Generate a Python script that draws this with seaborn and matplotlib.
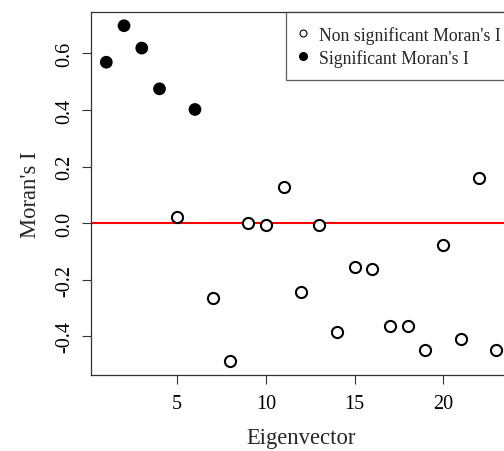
import numpy as np
import pandas as pd
import matplotlib
matplotlib.use("Agg")
import matplotlib.pyplot as plt
from matplotlib.lines import Line2D
import seaborn as sns

# Moran's I of each eigenvector
eigenvector = list(range(1, 24))
morans_i = [0.569, 0.698, 0.619, 0.475, 0.023, 0.402, -0.264, -0.488,
            0.000, -0.008, 0.129, -0.243, -0.005, -0.383, -0.154, -0.161,
            -0.363, -0.365, -0.448, -0.078, -0.410, 0.159, -0.448]
significant = [True, True, True, True, False, True] + [False] * 17

legend_labels = ["Non significant Moran's I", "Significant Moran's I"]
x_ticks = [5, 10, 15, 20]
y_ticks = [-0.4, -0.2, 0.0, 0.2, 0.4, 0.6]

df = pd.DataFrame({"Eigenvector": eigenvector, "MoransI": morans_i,
                   "Significant": significant})

sns.set_style("white")
plt.rcParams["font.family"] = ["Liberation Serif", "DejaVu Serif"]

fig = plt.figure(figsize=(5.04, 4.52), dpi=100)
ax = fig.add_axes([90.7 / 504, 1 - 375.7 / 452,
                   (512 - 90.7) / 504, (375.7 - 13.3) / 452])

ns = df[~df["Significant"]]
sg = df[df["Significant"]]
sns.scatterplot(data=ns, x="Eigenvector", y="MoransI", ax=ax, s=64,
                facecolor="white", edgecolor="black", linewidth=1.5,
                zorder=3)
sns.scatterplot(data=sg, x="Eigenvector", y="MoransI", ax=ax, s=84,
                color="black", edgecolor="none", linewidth=0, zorder=3)
ax.axhline(0, color="#ff0000", lw=1.5, zorder=2)

# 4% padding on both axes
xr = max(eigenvector) - min(eigenvector)
ax.set_xlim(min(eigenvector) - 0.04 * xr, max(eigenvector) + 0.04 * xr)
yr = max(morans_i) - min(morans_i)
ax.set_ylim(min(morans_i) - 0.04 * yr, max(morans_i) + 0.04 * yr)

ax.set_xticks(x_ticks)
ax.set_xticklabels([str(t) for t in x_ticks])
ax.set_yticks(y_ticks)
ax.set_yticklabels([f"{t:.1f}" for t in y_ticks], rotation=90, va="center")
ax.tick_params(axis="both", direction="out", length=6.2, width=0.8,
               color="#333333", labelsize=14.5, labelcolor="black", pad=6)
ax.tick_params(axis="x", pad=8)
ax.tick_params(left=True, bottom=True)

for sp in ax.spines.values():
    sp.set_visible(True)
    sp.set_color("#333333")
    sp.set_linewidth(0.9)

ax.set_xlabel("Eigenvector", fontsize=16.3, labelpad=10)
ax.set_ylabel("Moran's I", fontsize=16.3, labelpad=10)

handles = [
    Line2D([], [], marker="o", linestyle="none", markersize=5,
           markerfacecolor="white", markeredgecolor="black",
           markeredgewidth=0.8),
    Line2D([], [], marker="o", linestyle="none", markersize=5.5,
           markerfacecolor="black", markeredgecolor="black"),
]
leg = ax.legend(handles, legend_labels, loc="upper left",
                bbox_to_anchor=(285.7 / 504, 1 - 13.3 / 452),
                bbox_transform=fig.transFigure, fontsize=12.8,
                frameon=True, fancybox=False, borderpad=0.75,
                handlelength=0.42, handletextpad=0.72, labelspacing=0.3,
                borderaxespad=0)
leg.get_frame().set_edgecolor("#333333")
leg.get_frame().set_linewidth(0.9)

fig.savefig("out.png", dpi=100)
